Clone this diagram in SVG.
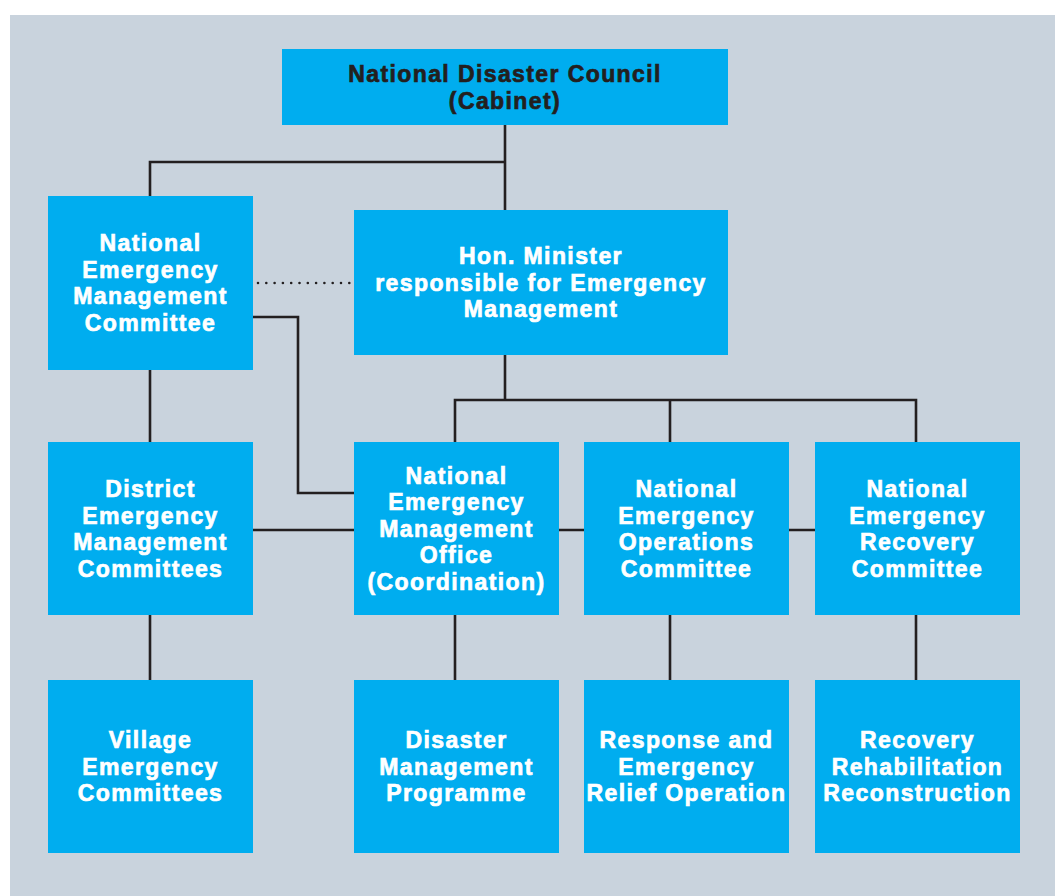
<svg xmlns="http://www.w3.org/2000/svg" width="1055" height="896" viewBox="0 0 1055 896">
<style>
.box{fill:#00adef;}
.t{font-family:"Liberation Sans",Arial,sans-serif;font-weight:bold;font-size:23px;letter-spacing:1.4px;fill:#ffffff;stroke:#ffffff;stroke-width:0.7;text-anchor:middle;}
.dark{fill:#231f20;stroke:#231f20;}
.ln{fill:none;stroke:#231f20;stroke-width:2.6;}
.dot{fill:none;stroke:#231f20;stroke-width:2.6;stroke-linecap:round;stroke-dasharray:0 8.3;}
</style>
<rect x="0" y="0" width="1055" height="896" fill="#ffffff"/>
<rect x="10" y="15" width="1045" height="881" fill="#c9d3dd"/>
<g id="connectors">
<path class="ln" d="M505,125 V210 M505,162 H150 V196"/>
<path class="dot" d="M258,283 H352"/>
<path class="ln" d="M253,317 H298 V493 H354"/>
<path class="ln" d="M150,370 V442"/>
<path class="ln" d="M505,355 V400 M455,442 V400 H916 V442 M670,400 V442"/>
<path class="ln" d="M253,530 H354 M559,530 H584 M789,530 H815"/>
<path class="ln" d="M150,615 V680 M455,615 V680 M670,615 V680 M916,615 V680"/>
</g>
<g id="ndc">
<rect class="box" x="282" y="49" width="446" height="76"/>
<text class="t dark" x="505" y="82">National Disaster Council</text>
<text class="t dark" x="505" y="108.5">(Cabinet)</text>
</g>
<g id="nemc">
<rect class="box" x="48" y="196" width="205" height="174"/>
<text class="t" x="150.5" y="251.25">National</text>
<text class="t" x="150.5" y="277.75">Emergency</text>
<text class="t" x="150.5" y="304.25">Management</text>
<text class="t" x="150.5" y="330.75">Committee</text>
</g>
<g id="minister">
<rect class="box" x="354" y="210" width="374" height="145"/>
<text class="t" x="541" y="264">Hon. Minister</text>
<text class="t" x="541" y="290.5">responsible for Emergency</text>
<text class="t" x="541" y="317">Management</text>
</g>
<g id="demc">
<rect class="box" x="48" y="442" width="205" height="173"/>
<text class="t" x="150.5" y="497">District</text>
<text class="t" x="150.5" y="523.5">Emergency</text>
<text class="t" x="150.5" y="550">Management</text>
<text class="t" x="150.5" y="576.5">Committees</text>
</g>
<g id="nemo">
<rect class="box" x="354" y="442" width="205" height="173"/>
<text class="t" x="456.5" y="483.5">National</text>
<text class="t" x="456.5" y="510">Emergency</text>
<text class="t" x="456.5" y="536.5">Management</text>
<text class="t" x="456.5" y="563">Office</text>
<text class="t" x="456.5" y="589.5">(Coordination)</text>
</g>
<g id="neoc">
<rect class="box" x="584" y="442" width="205" height="173"/>
<text class="t" x="686.5" y="497">National</text>
<text class="t" x="686.5" y="523.5">Emergency</text>
<text class="t" x="686.5" y="550">Operations</text>
<text class="t" x="686.5" y="576.5">Committee</text>
</g>
<g id="nerc">
<rect class="box" x="815" y="442" width="205" height="173"/>
<text class="t" x="917.5" y="497">National</text>
<text class="t" x="917.5" y="523.5">Emergency</text>
<text class="t" x="917.5" y="550">Recovery</text>
<text class="t" x="917.5" y="576.5">Committee</text>
</g>
<g id="vec">
<rect class="box" x="48" y="680" width="205" height="173"/>
<text class="t" x="150.5" y="748">Village</text>
<text class="t" x="150.5" y="774.5">Emergency</text>
<text class="t" x="150.5" y="801">Committees</text>
</g>
<g id="dmp">
<rect class="box" x="354" y="680" width="205" height="173"/>
<text class="t" x="456.5" y="748">Disaster</text>
<text class="t" x="456.5" y="774.5">Management</text>
<text class="t" x="456.5" y="801">Programme</text>
</g>
<g id="rero">
<rect class="box" x="584" y="680" width="205" height="173"/>
<text class="t" x="686.5" y="748">Response and</text>
<text class="t" x="686.5" y="774.5">Emergency</text>
<text class="t" x="686.5" y="801">Relief Operation</text>
</g>
<g id="rrr">
<rect class="box" x="815" y="680" width="205" height="173"/>
<text class="t" x="917.5" y="748">Recovery</text>
<text class="t" x="917.5" y="774.5">Rehabilitation</text>
<text class="t" x="917.5" y="801">Reconstruction</text>
</g>
</svg>
